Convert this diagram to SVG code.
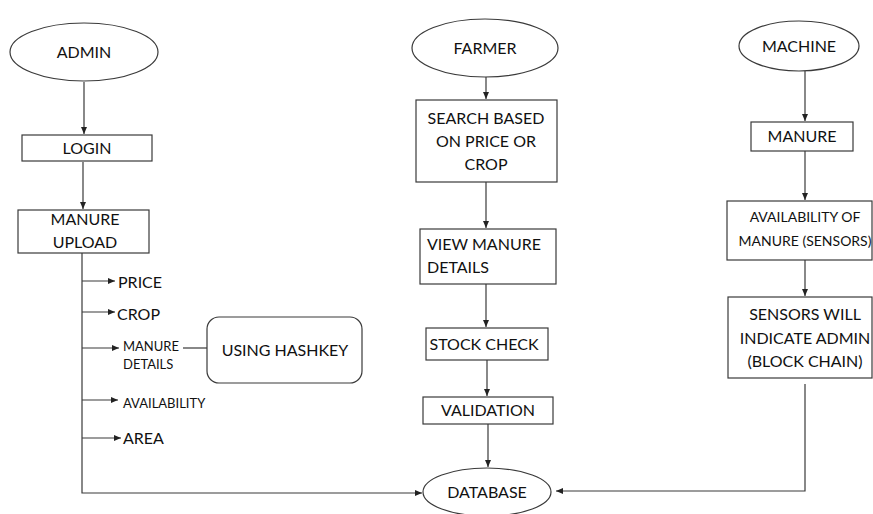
<svg xmlns="http://www.w3.org/2000/svg" width="873" height="514" viewBox="0 0 873 514">
<style>
.n{fill:#fff;stroke:#3a3a3a;stroke-width:1.2}
.t{font-family:Lato,"Liberation Sans",sans-serif;font-size:16px;fill:#111;text-anchor:middle}
.s{font-family:Lato,"Liberation Sans",sans-serif;font-size:13px;fill:#111}
.l{font-family:Lato,"Liberation Sans",sans-serif;font-size:16px;fill:#111}
.c{fill:none;stroke:#3a3a3a;stroke-width:1.2}
</style>
<defs>
<marker id="a" markerWidth="8" markerHeight="8" refX="7" refY="4" orient="auto" markerUnits="userSpaceOnUse">
<path d="M0,1 L7,4 L0,7 Z" fill="#222"/>
</marker>
</defs>
<rect width="873" height="514" fill="#fff"/>
<g id="connectors">
<path class="c" d="M84,82 V134" marker-end="url(#a)"/>
<path class="c" d="M83,162 V209" marker-end="url(#a)"/>
<path class="c" d="M82,253 V493 H422" marker-end="url(#a)"/>
<path class="c" d="M82,281 H115" marker-end="url(#a)"/>
<path class="c" d="M82,312 H115" marker-end="url(#a)"/>
<path class="c" d="M82,348 H119" marker-end="url(#a)"/>
<path class="c" d="M183,348 H207"/>
<path class="c" d="M82,400 H118" marker-end="url(#a)"/>
<path class="c" d="M82,438 H121" marker-end="url(#a)"/>
<path class="c" d="M486,77 V99" marker-end="url(#a)"/>
<path class="c" d="M486,182 V228" marker-end="url(#a)"/>
<path class="c" d="M486,284 V327" marker-end="url(#a)"/>
<path class="c" d="M487,360 V396" marker-end="url(#a)"/>
<path class="c" d="M488,424 V467" marker-end="url(#a)"/>
<path class="c" d="M805,71 V121" marker-end="url(#a)"/>
<path class="c" d="M805,151 V200" marker-end="url(#a)"/>
<path class="c" d="M805,260 V296" marker-end="url(#a)"/>
<path class="c" d="M805,384 V491 H556" marker-end="url(#a)"/>
</g>
<g id="admin"><ellipse class="n" cx="84" cy="52" rx="74" ry="29"/><text class="t" x="84" y="58">ADMIN</text></g>
<g id="login"><rect class="n" x="22" y="135" width="130" height="26"/><text class="t" x="87" y="154">LOGIN</text></g>
<g id="manure-upload"><rect class="n" x="18" y="210" width="131" height="43"/><text class="t" x="85" y="225">MANURE</text><text class="t" x="85" y="248">UPLOAD</text></g>
<g id="price"><text class="l" x="118" y="288">PRICE</text></g>
<g id="crop"><text class="l" x="117" y="320">CROP</text></g>
<g id="manure-details"><text class="s" x="123" y="351">MANURE</text><text class="s" x="123" y="369">DETAILS</text></g>
<g id="hashkey"><rect class="n" x="207" y="317" width="155" height="66" rx="12"/><text class="t" x="285" y="356">USING HASHKEY</text></g>
<g id="availability"><text class="s" x="123" y="408">AVAILABILITY</text></g>
<g id="area"><text class="l" x="123" y="444">AREA</text></g>
<g id="farmer"><ellipse class="n" cx="485" cy="48" rx="73" ry="29"/><text class="t" x="485" y="54">FARMER</text></g>
<g id="search"><rect class="n" x="416" y="100" width="141" height="82"/><text class="t" x="486" y="124">SEARCH BASED</text><text class="t" x="486" y="147">ON PRICE OR</text><text class="t" x="486" y="170">CROP</text></g>
<g id="view"><rect class="n" x="420" y="229" width="136" height="55"/><text class="l" x="427" y="250">VIEW MANURE</text><text class="l" x="427" y="273">DETAILS</text></g>
<g id="stock"><rect class="n" x="426" y="328" width="122" height="32"/><text class="t" x="484" y="350">STOCK CHECK</text></g>
<g id="validation"><rect class="n" x="423" y="397" width="130" height="27"/><text class="t" x="488" y="416">VALIDATION</text></g>
<g id="database"><ellipse class="n" cx="487" cy="492" rx="64" ry="24"/><text class="t" x="487" y="498">DATABASE</text></g>
<g id="machine"><ellipse class="n" cx="799" cy="46" rx="60" ry="25"/><text class="t" x="799" y="52">MACHINE</text></g>
<g id="manure"><rect class="n" x="751" y="122" width="102" height="29"/><text class="t" x="802" y="142">MANURE</text></g>
<g id="avail-sensors"><rect class="n" x="727" y="201" width="145" height="59"/><text class="t" x="805" y="222" style="font-size:14px">AVAILABILITY OF</text><text class="t" x="805" y="246" style="font-size:14px">MANURE (SENSORS)</text></g>
<g id="sensors"><rect class="n" x="728" y="297" width="144" height="81"/><text class="t" x="805" y="320">SENSORS WILL</text><text class="t" x="805" y="344">INDICATE ADMIN</text><text class="t" x="805" y="367">(BLOCK CHAIN)</text></g>
</svg>
